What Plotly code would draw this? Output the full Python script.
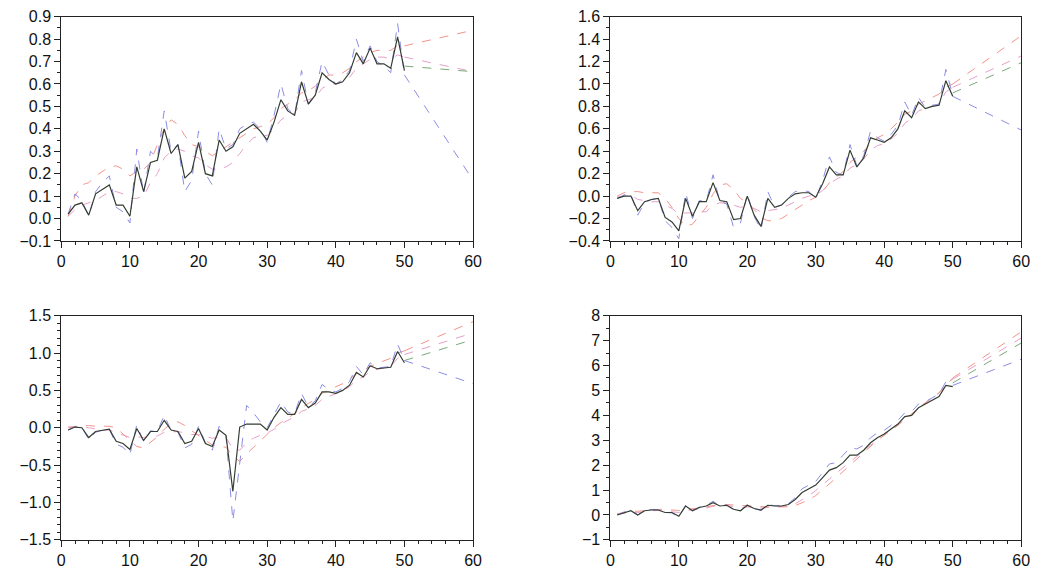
import plotly.graph_objects as go

# ---------------- data ----------------
x_in = list(range(1, 51))          # in-sample periods
x_fc = [50, 60]                    # forecast horizon end points

# Panel 1
data1 = [0.02,0.06,0.07,0.015,0.11,0.13,0.15,0.06,0.06,0.01,0.23,0.12,0.25,0.26,0.40,0.29,0.33,0.18,0.21,0.34,
         0.20,0.19,0.35,0.30,0.32,0.38,0.40,0.42,0.39,0.35,0.43,0.53,0.48,0.46,0.61,0.51,0.55,0.65,0.62,0.60,
         0.61,0.65,0.74,0.69,0.76,0.69,0.69,0.67,0.81,0.66]
blue1 = [0.02,0.11,0.08,0.01,0.12,0.16,0.19,0.05,0.03,-0.02,0.31,0.11,0.30,0.27,0.48,0.30,0.33,0.12,0.17,0.39,
         0.20,0.15,0.40,0.31,0.33,0.40,0.42,0.43,0.40,0.34,0.46,0.60,0.49,0.46,0.66,0.51,0.56,0.70,0.64,0.60,
         0.62,0.66,0.80,0.70,0.77,0.70,0.68,0.65,0.87,0.64]
red1 = [0.01,0.10,0.15,0.16,0.19,0.21,0.23,0.235,0.22,0.19,0.21,0.22,0.25,0.33,0.40,0.44,0.42,0.37,0.33,0.32,
        0.30,0.28,0.30,0.32,0.34,0.36,0.38,0.40,0.41,0.42,0.45,0.49,0.51,0.53,0.56,0.57,0.59,0.62,0.64,0.64,
        0.65,0.67,0.70,0.72,0.74,0.75,0.75,0.75,0.77,0.77]
pink1 = [0.01,0.04,0.06,0.07,0.08,0.10,0.12,0.12,0.11,0.09,0.09,0.10,0.16,0.20,0.27,0.30,0.31,0.30,0.28,0.27,
         0.24,0.22,0.22,0.23,0.25,0.29,0.33,0.36,0.37,0.37,0.40,0.44,0.46,0.47,0.52,0.53,0.54,0.58,0.60,0.60,
         0.61,0.63,0.67,0.69,0.71,0.72,0.72,0.71,0.73,0.72]
fc1_blue = [0.64, 0.17]
fc1_red = [0.77, 0.84]
fc1_pink = [0.72, 0.655]
fc1_green = [0.68, 0.655]

# Panel 2
data2 = [-0.02,0.0,0.0,-0.13,-0.05,-0.03,-0.02,-0.19,-0.23,-0.31,-0.02,-0.18,-0.05,-0.05,0.12,-0.04,-0.05,-0.21,-0.20,0.0,
         -0.17,-0.27,-0.02,-0.10,-0.08,-0.02,0.02,0.03,0.03,-0.01,0.11,0.26,0.19,0.19,0.41,0.26,0.34,0.52,0.50,0.48,
         0.52,0.60,0.76,0.70,0.84,0.78,0.80,0.81,1.03,0.89]
blue2 = [-0.02,0.01,0.02,-0.17,-0.06,-0.03,-0.02,-0.22,-0.28,-0.38,0.03,-0.20,-0.04,-0.05,0.19,-0.05,-0.07,-0.28,-0.24,0.02,
         -0.18,-0.30,0.04,-0.10,-0.08,-0.01,0.04,0.05,0.04,-0.02,0.14,0.35,0.21,0.19,0.46,0.27,0.36,0.58,0.52,0.49,
         0.55,0.63,0.84,0.72,0.88,0.79,0.81,0.82,1.13,0.90]
red2 = [0.0,0.03,0.04,0.04,0.03,0.03,0.03,-0.02,-0.10,-0.20,-0.27,-0.25,-0.18,-0.10,0.02,0.10,0.11,0.06,-0.02,-0.06,
        -0.12,-0.19,-0.22,-0.22,-0.20,-0.16,-0.12,-0.08,-0.04,-0.01,0.04,0.12,0.17,0.22,0.30,0.35,0.40,0.47,0.52,0.55,
        0.60,0.66,0.73,0.76,0.82,0.85,0.88,0.91,0.97,1.00]
pink2 = [-0.01,0.0,0.01,-0.03,-0.04,-0.05,-0.05,-0.08,-0.11,-0.16,-0.15,-0.15,-0.14,-0.14,-0.08,-0.06,-0.06,-0.08,-0.10,-0.09,
         -0.11,-0.14,-0.13,-0.12,-0.11,-0.08,-0.05,-0.02,0.0,0.01,0.05,0.11,0.15,0.18,0.25,0.28,0.33,0.41,0.45,0.47,
         0.51,0.56,0.65,0.69,0.76,0.78,0.80,0.82,0.93,0.97]
fc2_blue = [0.89, 0.59]
fc2_red = [1.00, 1.43]
fc2_pink = [0.97, 1.25]
fc2_green = [0.92, 1.19]

# Panel 3
data3 = [-0.03,0.01,0.0,-0.13,-0.05,-0.03,-0.02,-0.18,-0.21,-0.29,-0.01,-0.17,-0.05,-0.05,0.10,-0.03,-0.05,-0.21,-0.18,-0.01,
         -0.21,-0.25,-0.03,-0.10,-0.85,0.01,0.05,0.05,0.05,-0.03,0.14,0.27,0.18,0.18,0.38,0.27,0.33,0.48,0.48,0.46,
         0.50,0.57,0.74,0.68,0.83,0.79,0.80,0.81,1.02,0.87]
blue3 = [-0.03,0.02,0.01,-0.16,-0.06,-0.03,-0.02,-0.22,-0.26,-0.36,0.04,-0.19,-0.04,-0.05,0.17,-0.04,-0.06,-0.27,-0.22,0.02,
         -0.20,-0.30,0.02,-0.11,-1.25,-0.45,0.30,0.20,0.08,0.00,0.18,0.35,0.21,0.19,0.46,0.28,0.36,0.58,0.51,0.48,
         0.53,0.62,0.82,0.71,0.87,0.80,0.81,0.82,1.12,0.90]
red3 = [0.01,0.02,0.03,0.03,0.02,0.02,0.02,0.0,-0.08,-0.17,-0.25,-0.27,-0.20,-0.12,-0.02,0.06,0.08,0.03,-0.04,-0.10,
        -0.16,-0.23,-0.25,-0.26,-0.38,-0.45,-0.35,-0.26,-0.17,-0.08,0.0,0.07,0.13,0.19,0.27,0.32,0.38,0.46,0.51,0.55,
        0.59,0.65,0.72,0.76,0.82,0.86,0.89,0.93,1.00,1.03]
pink3 = [0.0,0.01,0.02,0.0,-0.02,-0.03,-0.03,-0.06,-0.09,-0.13,-0.12,-0.13,-0.12,-0.11,-0.06,-0.05,-0.05,-0.07,-0.09,-0.09,
         -0.11,-0.14,-0.13,-0.13,-0.28,-0.30,-0.20,-0.14,-0.10,-0.07,-0.02,0.05,0.10,0.14,0.22,0.25,0.30,0.38,0.42,0.45,
         0.49,0.55,0.64,0.68,0.75,0.78,0.80,0.82,0.93,0.98]
fc3_blue = [0.90, 0.59]
fc3_red = [1.03, 1.42]
fc3_pink = [0.98, 1.27]
fc3_green = [0.90, 1.18]

# Panel 4
data4 = [0.0,0.1,0.17,0.0,0.17,0.2,0.2,0.1,0.1,-0.05,0.36,0.17,0.3,0.36,0.49,0.36,0.39,0.23,0.17,0.39,
         0.26,0.2,0.39,0.36,0.36,0.42,0.62,0.9,1.05,1.2,1.5,1.8,1.9,2.1,2.4,2.4,2.6,2.9,3.1,3.25,
         3.45,3.65,3.95,4.0,4.3,4.45,4.6,4.75,5.2,5.15]
blue4 = [0.0,0.12,0.2,0.0,0.18,0.22,0.22,0.1,0.08,-0.08,0.4,0.17,0.32,0.38,0.55,0.37,0.4,0.2,0.15,0.42,
         0.26,0.18,0.42,0.37,0.37,0.45,0.7,1.05,1.2,1.35,1.7,2.05,2.1,2.4,2.7,2.65,2.8,3.1,3.3,3.4,
         3.6,3.8,4.1,4.15,4.45,4.55,4.7,4.85,5.35,5.2]
red4 = [0.05,0.1,0.15,0.15,0.18,0.2,0.22,0.22,0.2,0.18,0.22,0.24,0.28,0.32,0.38,0.4,0.42,0.4,0.38,0.38,
        0.36,0.33,0.32,0.32,0.32,0.33,0.38,0.48,0.6,0.78,1.0,1.25,1.5,1.75,2.0,2.25,2.5,2.75,3.0,3.2,
        3.4,3.6,3.85,4.05,4.3,4.5,4.7,4.9,5.2,5.5]
pink4 = [0.02,0.08,0.12,0.1,0.14,0.17,0.18,0.16,0.14,0.1,0.18,0.2,0.24,0.28,0.35,0.36,0.37,0.34,0.3,0.32,
         0.3,0.28,0.3,0.32,0.33,0.36,0.45,0.6,0.78,0.98,1.2,1.45,1.68,1.9,2.15,2.35,2.55,2.8,3.0,3.2,
         3.4,3.6,3.85,4.05,4.3,4.5,4.7,4.9,5.25,5.45]
fc4_blue = [5.2, 6.25]
fc4_red = [5.5, 7.35]
fc4_pink = [5.45, 7.1]
fc4_green = [5.3, 6.9]

panels = [
    dict(data=data1, blue=blue1, red=red1, pink=pink1,
         fb=fc1_blue, fr=fc1_red, fp=fc1_pink, fg=fc1_green,
         yr=[-0.1, 0.9], dt=0.1, mdt=0.05, fmt=".1f"),
    dict(data=data2, blue=blue2, red=red2, pink=pink2,
         fb=fc2_blue, fr=fc2_red, fp=fc2_pink, fg=fc2_green,
         yr=[-0.4, 1.6], dt=0.2, mdt=0.1, fmt=".1f"),
    dict(data=data3, blue=blue3, red=red3, pink=pink3,
         fb=fc3_blue, fr=fc3_red, fp=fc3_pink, fg=fc3_green,
         yr=[-1.5, 1.5], dt=0.5, mdt=0.1, fmt=".1f"),
    dict(data=data4, blue=blue4, red=red4, pink=pink4,
         fb=fc4_blue, fr=fc4_red, fp=fc4_pink, fg=fc4_green,
         yr=[-1, 8], dt=1, mdt=0.5, fmt="d"),
]

# ---------------- styles ----------------
W, H = 1044, 578
c_blue = "#8c8ce6"
c_red = "#f2948c"
c_pink = "#e6a0c8"
c_green = "#78aa78"
c_data = "#333d33"

# pixel boxes of plot areas (left, right, top, bottom)
boxes = [(58, 475, 9, 240), (614, 1030, 9, 240), (58, 475, 317, 548), (614, 1030, 317, 548)]

fig = go.Figure()
font = dict(family="Liberation Sans, Arial, sans-serif", size=16, color="#111111")

for i, (p, b) in enumerate(zip(panels, boxes)):
    n = "" if i == 0 else str(i + 1)
    xa, ya = "x" + n, "y" + n
    dash = "dash"
    fig.add_trace(go.Scatter(x=x_in, y=p["pink"], mode="lines", xaxis=xa, yaxis=ya,
                             line=dict(color=c_pink, width=1, dash=dash)))
    fig.add_trace(go.Scatter(x=x_fc, y=p["fp"], mode="lines", xaxis=xa, yaxis=ya,
                             line=dict(color=c_pink, width=1, dash=dash)))
    fig.add_trace(go.Scatter(x=x_in, y=p["red"], mode="lines", xaxis=xa, yaxis=ya,
                             line=dict(color=c_red, width=1, dash=dash)))
    fig.add_trace(go.Scatter(x=x_fc, y=p["fr"], mode="lines", xaxis=xa, yaxis=ya,
                             line=dict(color=c_red, width=1, dash=dash)))
    fig.add_trace(go.Scatter(x=x_fc, y=p["fg"], mode="lines", xaxis=xa, yaxis=ya,
                             line=dict(color=c_green, width=1, dash=dash)))
    fig.add_trace(go.Scatter(x=x_in, y=p["blue"], mode="lines", xaxis=xa, yaxis=ya,
                             line=dict(color=c_blue, width=1, dash=dash)))
    fig.add_trace(go.Scatter(x=x_fc, y=p["fb"], mode="lines", xaxis=xa, yaxis=ya,
                             line=dict(color=c_blue, width=1, dash=dash)))
    fig.add_trace(go.Scatter(x=x_in, y=p["data"], mode="lines", xaxis=xa, yaxis=ya,
                             line=dict(color=c_data, width=1.2)))

    l, r, t, btm = b
    fig.layout["xaxis" + n] = dict(
        domain=[l / W, r / W], anchor=ya, range=[0, 60], dtick=10, tick0=0,
        showline=True, linecolor="#222", linewidth=1, mirror=True,
        ticks="outside", ticklen=6, tickcolor="#222", showgrid=False, zeroline=False,
        minor=dict(dtick=2, ticks="outside", ticklen=3, tickcolor="#222", showgrid=False),
        tickfont=font, fixedrange=True)
    fig.layout["yaxis" + n] = dict(
        domain=[1 - btm / H, 1 - t / H], anchor=xa, range=p["yr"], dtick=p["dt"], tick0=0,
        tickformat=p["fmt"],
        showline=True, linecolor="#222", linewidth=1, mirror=True,
        ticks="outside", ticklen=6, tickcolor="#222", showgrid=False, zeroline=False,
        minor=dict(dtick=p["mdt"], ticks="outside", ticklen=3, tickcolor="#222", showgrid=False),
        tickfont=font, fixedrange=True)

fig.update_layout(width=W, height=H, margin=dict(l=0, r=0, t=0, b=0),
                  paper_bgcolor="white", plot_bgcolor="white", showlegend=False)

fig.write_html("out.html", config={"displayModeBar": False},
               post_script="document.body.style.margin='0';document.body.style.overflow='hidden';")
